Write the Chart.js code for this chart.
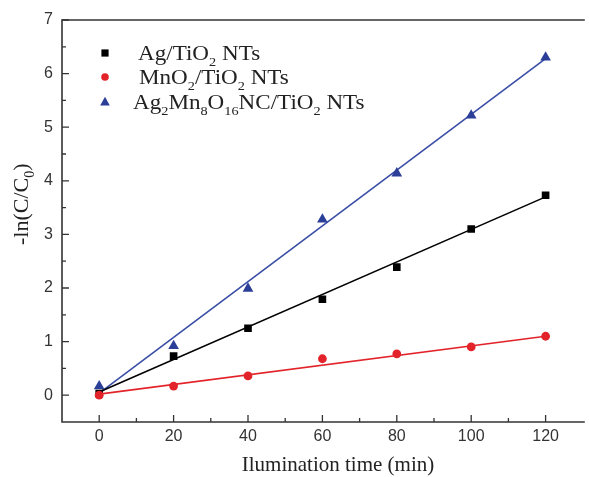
<!DOCTYPE html>
<html><head><meta charset="utf-8">
<script src="https://cdn.jsdelivr.net/npm/chart.js@4.4.0/dist/chart.umd.min.js"></script>
<style>html,body{margin:0;padding:0;background:#fff}#wrap{width:589px;height:477px;position:relative}</style>
</head><body><div id="wrap"><canvas id="c" width="589" height="477"></canvas></div>
<script>
// ---- data ----
const times = [0, 20, 40, 60, 80, 100, 120];
const agTiO2 = [0.03, 0.73, 1.25, 1.79, 2.39, 3.10, 3.73];
const mnO2TiO2 = [0.00, 0.17, 0.36, 0.68, 0.77, 0.90, 1.10];
const agMnTiO2 = [0.17, 0.92, 1.99, 3.28, 4.14, 5.22, 6.30];
const fitTimes = [0, 120];
const agFit = [0.06, 3.70];
const mnFit = [0.02, 1.10];
const agMnFit = [0.04, 6.28];
const xMajorTicks = [0, 20, 40, 60, 80, 100, 120];
const xMinorTicks = [10, 30, 50, 70, 90, 110];
const yMajorTicks = [0, 1, 2, 3, 4, 5, 6, 7];
const yMinorTicks = [0.5, 1.5, 2.5, 3.5, 4.5, 5.5, 6.5];
// legend labels as [text, isSubscript] segments
const legendAg = [["Ag/TiO", 0], ["2", 1], [" NTs", 0]];
const legendMn = [["MnO", 0], ["2", 1], ["/TiO", 0], ["2", 1], [" NTs", 0]];
const legendAgMn = [["Ag", 0], ["2", 1], ["Mn", 0], ["8", 1], ["O", 0], ["16", 1], ["NC/TiO", 0], ["2", 1], [" NTs", 0]];
const yTitle = [["-ln(C/C", 0], ["0", 1], [")", 0]];
const xTitle = "Ilumination time (min)";

const BLACK = '#000000', RED = '#e3232a', BLUE = '#2c3f98', LBLUE = '#3a4ea6';
const SERIF = '"Liberation Serif", "Times New Roman", serif';
const pts = (xs, ys) => xs.map((x, i) => ({x: x, y: ys[i]}));

function drawMarker(ctx, style, x, y, r, color) {
  ctx.save();
  ctx.fillStyle = color;
  ctx.beginPath();
  if (style === 'rect') {
    ctx.rect(x - r, y - r, 2 * r, 2 * r);
  } else if (style === 'circle') {
    ctx.arc(x, y, r, 0, Math.PI * 2);
  } else {
    ctx.moveTo(x, y - r * 1.1);
    ctx.lineTo(x + r, y + r * 0.75);
    ctx.lineTo(x - r, y + r * 0.75);
    ctx.closePath();
  }
  ctx.fill();
  ctx.restore();
}

function drawRich(ctx, segs, x, y, size, subSize, subDrop, sx) {
  ctx.save();
  ctx.translate(x, y);
  ctx.scale(sx, 1);
  let cx = 0;
  ctx.textBaseline = 'alphabetic';
  ctx.textAlign = 'left';
  for (const [t, sub] of segs) {
    ctx.font = (sub ? subSize : size) + 'px ' + SERIF;
    ctx.fillText(t, cx, sub ? subDrop : 0);
    cx += ctx.measureText(t).width;
  }
  ctx.restore();
}

const decor = {
  id: 'decor',
  afterDraw(chart) {
    const ctx = chart.ctx, a = chart.chartArea;
    const xs = chart.scales.x, ys = chart.scales.y;
    ctx.save();
    ctx.strokeStyle = '#333333';
    ctx.lineWidth = 1.6;
    ctx.beginPath();
    ctx.moveTo(a.right + 2, a.top); ctx.lineTo(a.left, a.top);
    ctx.lineTo(a.left, a.bottom); ctx.lineTo(a.right + 2, a.bottom);
    ctx.stroke();
    ctx.lineWidth = 1.3;
    ctx.beginPath();
    xMajorTicks.forEach(v => { const p = xs.getPixelForValue(v); ctx.moveTo(p, a.bottom); ctx.lineTo(p, a.bottom - 7); });
    xMinorTicks.forEach(v => { const p = xs.getPixelForValue(v); ctx.moveTo(p, a.bottom); ctx.lineTo(p, a.bottom - 4); });
    yMajorTicks.forEach(v => { const p = ys.getPixelForValue(v); ctx.moveTo(a.left, p); ctx.lineTo(a.left + 7, p); });
    yMinorTicks.forEach(v => { const p = ys.getPixelForValue(v); ctx.moveTo(a.left, p); ctx.lineTo(a.left + 4, p); });
    ctx.stroke();
    ctx.restore();

    // legend
    ctx.save();
    drawMarker(ctx, 'rect', 105, 53, 3.6, BLACK);
    ctx.fillStyle = '#222';
    drawRich(ctx, legendAg, 138, 60, 21, 13, 6, 1.1);
    drawMarker(ctx, 'circle', 105, 77, 3.8, RED);
    ctx.fillStyle = '#222';
    drawRich(ctx, legendMn, 139, 84, 21, 13, 6, 1.1);
    drawMarker(ctx, 'tri', 105, 102, 4.8, BLUE);
    ctx.fillStyle = '#222';
    drawRich(ctx, legendAgMn, 133, 109, 21, 13, 6, 1.1);
    ctx.restore();

    // y title (rotated)
    ctx.save();
    ctx.fillStyle = '#222';
    ctx.translate(28, 245);
    ctx.rotate(-Math.PI / 2);
    drawRich(ctx, yTitle, 0, 0, 22, 14, 6, 1.0);
    ctx.restore();

    // x title
    ctx.save();
    ctx.fillStyle = '#222';
    ctx.font = '21px ' + SERIF;
    ctx.textAlign = 'center';
    ctx.textBaseline = 'alphabetic';
    ctx.fillText(xTitle, 338, 471);
    ctx.restore();
  }
};

new Chart(document.getElementById('c'), {
  type: 'scatter',
  data: {
    datasets: [
      {label: 'Ag/TiO2 NTs', data: pts(times, agTiO2), pointStyle: 'rect', pointRadius: 5.4, backgroundColor: BLACK, borderWidth: 0, order: 2},
      {label: 'MnO2/TiO2 NTs', data: pts(times, mnO2TiO2), pointStyle: 'circle', pointRadius: 4.4, backgroundColor: RED, borderWidth: 0, order: 1},
      {label: 'Ag2Mn8O16NC/TiO2 NTs', data: pts(times, agMnTiO2), pointStyle: 'triangle', pointRadius: 6.2, backgroundColor: BLUE, borderWidth: 0, order: 3},
      {label: 'fit1', data: pts(fitTimes, agFit), showLine: true, pointRadius: 0, borderColor: BLACK, borderWidth: 1.6, order: 5},
      {label: 'fit2', data: pts(fitTimes, mnFit), showLine: true, pointRadius: 0, borderColor: RED, borderWidth: 1.6, order: 5},
      {label: 'fit3', data: pts(fitTimes, agMnFit), showLine: true, pointRadius: 0, borderColor: LBLUE, borderWidth: 1.6, order: 5}
    ]
  },
  options: {
    responsive: false,
    animation: false,
    devicePixelRatio: 1,
    layout: {padding: {left: 0, right: 0, top: 20, bottom: 0}},
    plugins: {legend: {display: false}, tooltip: {enabled: false}},
    scales: {
      x: {
        type: 'linear', min: -10, max: 130,
        afterBuildTicks: s => { s.ticks = xMajorTicks.map(v => ({value: v})); },
        afterFit: s => { s.height = 55; },
        grid: {display: false, drawTicks: false},
        border: {display: false},
        ticks: {padding: 5, color: '#333', font: {family: '"Liberation Sans", Arial, sans-serif', size: 16}}
      },
      y: {
        type: 'linear', min: -0.5, max: 7,
        afterBuildTicks: s => { s.ticks = yMajorTicks.map(v => ({value: v})); },
        afterFit: s => { s.width = 62; },
        grid: {display: false, drawTicks: false},
        border: {display: false},
        ticks: {padding: 9, color: '#333', font: {family: '"Liberation Sans", Arial, sans-serif', size: 16}}
      }
    }
  },
  plugins: [decor]
});
</script></body></html>
